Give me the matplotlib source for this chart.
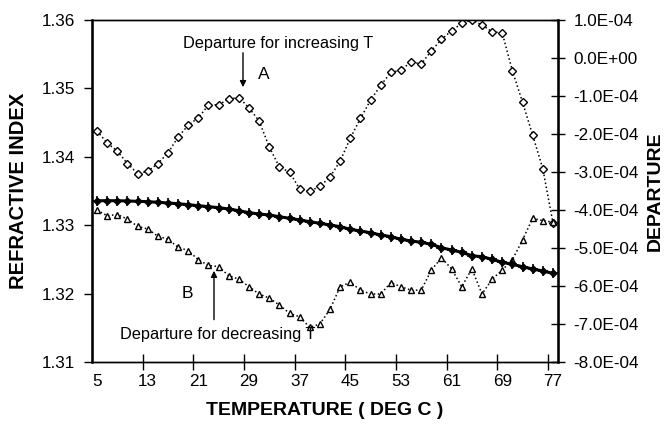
import matplotlib
matplotlib.use("Agg")
import matplotlib.pyplot as plt
from matplotlib.ticker import FixedLocator, FuncFormatter

plt.rcParams["font.family"] = ["Liberation Sans", "DejaVu Sans"]

# temperature categories (deg C)
temp = [5.0, 6.6, 8.2, 9.8, 11.4, 13.0, 14.6, 16.2, 17.8, 19.4,
        21.0, 22.6, 24.2, 25.8, 27.4, 29.0, 30.6, 32.2, 33.8, 35.4,
        37.0, 38.6, 40.2, 41.8, 43.4, 45.0, 46.6, 48.2, 49.8, 51.4,
        53.0, 54.6, 56.2, 57.8, 59.4, 61.0, 62.6, 64.2, 65.8, 67.4,
        69.0, 70.6, 72.2, 73.8, 75.4, 77.0]

# refractive index (left axis)
n_index = [1.33358, 1.33358, 1.33358, 1.33354, 1.33349, 1.33344, 1.33335, 1.33325,
           1.33314, 1.33300, 1.33285, 1.33271, 1.33256, 1.33237, 1.33212, 1.33183,
           1.33164, 1.33149, 1.33124, 1.33101, 1.33076, 1.33051, 1.33028, 1.33003,
           1.32978, 1.32940, 1.32915, 1.32890, 1.32857, 1.32832, 1.32795, 1.32769,
           1.32750, 1.32721, 1.32671, 1.32637, 1.32604, 1.32554, 1.32539, 1.32501,
           1.32457, 1.32428, 1.32393, 1.32360, 1.32330, 1.32297]

# departure, increasing T (A), in units of 1e-4
dep_inc = [-1.92, -2.24, -2.45, -2.78, -3.04, -2.98, -2.78, -2.50, -2.08, -1.77,
           -1.57, -1.24, -1.23, -1.08, -1.04, -1.31, -1.66, -2.34, -2.87, -3.00,
           -3.45, -3.50, -3.38, -3.13, -2.71, -2.11, -1.59, -1.11, -0.72, -0.38,
           -0.32, -0.10, -0.16, 0.19, 0.49, 0.72, 0.91, 1.00, 0.87, 0.69,
           0.66, -0.34, -1.16, -2.03, -2.91, -4.33]

# departure, decreasing T (B), in units of 1e-4
dep_dec = [-4.01, -4.15, -4.12, -4.24, -4.43, -4.50, -4.69, -4.77, -4.98, -5.07,
           -5.31, -5.46, -5.49, -5.73, -5.82, -6.02, -6.21, -6.32, -6.50, -6.72,
           -6.81, -7.09, -7.00, -6.61, -6.02, -5.90, -6.11, -6.21, -6.21, -5.91,
           -6.02, -6.11, -6.11, -5.58, -5.26, -5.55, -6.02, -5.55, -6.21, -5.82,
           -5.58, -5.31, -4.79, -4.22, -4.28, -4.32]

label_temps = [5, 13, 21, 29, 37, 45, 53, 61, 69, 77]
boundary_temps = [12.2, 20.2, 28.2, 36.2, 44.2, 52.2, 60.2, 68.2, 76.2]

fig = plt.figure(figsize=(6.7, 4.33), dpi=100)
ax = fig.add_axes([0.1373, 0.164, 0.6955, 0.7898])
ax2 = ax.twinx()

# departures on the right axis
ax2.plot(temp, [v * 1e-4 for v in dep_inc], ls=":", lw=1.1, color="k",
         marker="D", ms=3.6, mfc="white", mec="k", mew=1.0, zorder=3)
ax2.plot(temp, [v * 1e-4 for v in dep_dec], ls=":", lw=1.1, color="k",
         marker="^", ms=4.2, mfc="white", mec="k", mew=1.0, zorder=3)

# refractive index on the left axis
ax.plot(temp, n_index, "-", color="k", lw=2.2, marker="D", ms=3.5,
        mfc="k", mec="k", zorder=4)
ax.plot(temp, n_index, "none", marker="+", ms=7, mec="k", mew=1.2, zorder=4)
ax.set_zorder(ax2.get_zorder() + 1)
ax.patch.set_visible(False)

ax.set_xlim(4.2, 77.8)
ax.set_ylim(1.31, 1.36)
ax.set_yticks([1.31, 1.32, 1.33, 1.34, 1.35, 1.36])
ax.yaxis.set_major_formatter(FuncFormatter(lambda v, p: f"{v:.2f}"))
ax2.set_ylim(-8e-4, 1e-4)
ax2.set_yticks([i * 1e-4 for i in range(-8, 2)])
ax2.yaxis.set_major_formatter(FuncFormatter(lambda v, p: f"{v:.1E}"))

ax.xaxis.set_major_locator(FixedLocator(label_temps))
ax.xaxis.set_minor_locator(FixedLocator(boundary_temps))
ax.tick_params(axis="x", which="major", length=0, pad=9, labelsize=12.3)
ax.tick_params(axis="x", which="minor", length=11, width=1, direction="inout")
ax.tick_params(axis="y", which="major", length=6, width=1, direction="out",
               labelsize=12.3, pad=6)
ax2.tick_params(axis="y", which="major", length=10, width=1, direction="inout",
                labelsize=12.3, pad=6)

for a in (ax, ax2):
    for sp in a.spines.values():
        sp.set_linewidth(1.0)
ax.spines["left"].set_linewidth(1.8)
ax2.spines["right"].set_linewidth(1.8)

ax.set_xlabel("TEMPERATURE ( DEG C )", fontsize=14, fontweight="bold", labelpad=9)
ax.set_ylabel("REFRACTIVE INDEX", fontsize=14.5, fontweight="bold", labelpad=10)
ax2.set_ylabel("DEPARTURE", fontsize=14, fontweight="bold", labelpad=6)

# annotations
ax.text(33.6, 1.3565, "Departure for increasing T", fontsize=11.8,
        ha="center", va="center")
ax.annotate("", xy=(28.05, 1.34977), xytext=(28.05, 1.35561),
            arrowprops=dict(arrowstyle="-|>", color="k", lw=1, mutation_scale=9))
ax.text(31.4, 1.3521, "A", fontsize=12.5, ha="center", va="center")
ax.text(19.3, 1.3200, "B", fontsize=12.5, ha="center", va="center")
ax.annotate("", xy=(23.47, 1.32374), xytext=(23.47, 1.31579),
            arrowprops=dict(arrowstyle="-|>", color="k", lw=1, mutation_scale=9))
ax.text(24.1, 1.31395, "Departure for decreasing T", fontsize=11.8,
        ha="center", va="center")

fig.savefig("out.png", dpi=100)
